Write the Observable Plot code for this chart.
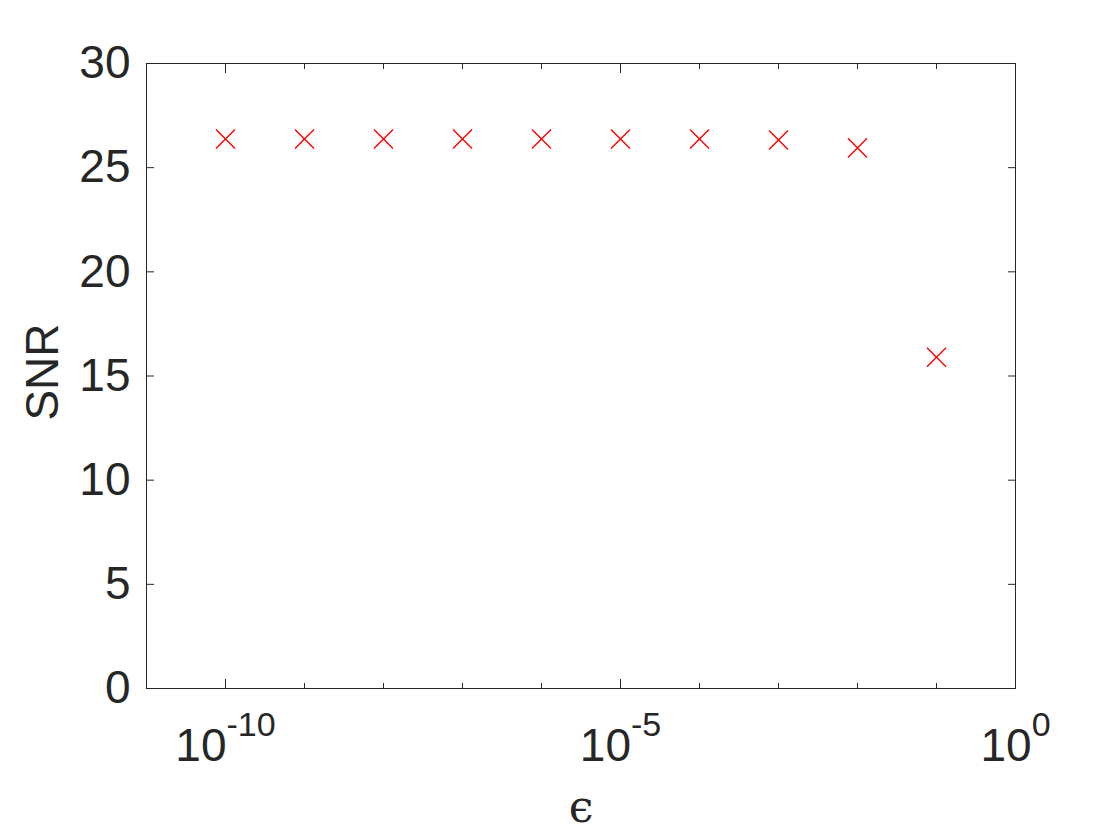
<!DOCTYPE html>
<html><head><meta charset="utf-8">
<script src="https://cdn.jsdelivr.net/npm/d3@7"></script>
<script src="https://cdn.jsdelivr.net/npm/@observablehq/plot@0.6"></script>
<style>body{margin:0;background:#fff}</style>
</head><body><div id="chart"></div>
<script>
const epsilon = [1e-10, 1e-9, 1e-8, 1e-7, 1e-6, 1e-5, 1e-4, 1e-3, 1e-2, 1e-1];
const snr = [26.38, 26.38, 26.38, 26.38, 26.38, 26.38, 26.38, 26.33, 25.95, 15.90];
const xMajorTicks = [1e-10, 1e-5, 1];
const xMajorLabels = ["10^-10", "10^-5", "10^0"];
const xMinorTicks = [1e-9, 1e-8, 1e-7, 1e-6, 1e-4, 1e-3, 1e-2, 1e-1];
const yTicks = [0, 5, 10, 15, 20, 25, 30];
const xLabel = "ϵ";
const yLabel = "SNR";

const points = epsilon.map((e, i) => ({e, s: snr[i]}));
const ink = "#262626";

const chart = Plot.plot({
  width: 1120,
  height: 840,
  marginLeft: 146,
  marginRight: 105,
  marginTop: 63,
  marginBottom: 152,
  style: {fontFamily: "'Liberation Sans', Arial, sans-serif", background: "white", color: ink},
  x: {type: "log", domain: [1e-11, 1]},
  y: {domain: [0, 30]},
  marks: [
    Plot.frame({stroke: ink, strokeWidth: 1}),
    Plot.axisX({ticks: xMajorTicks, anchor: "bottom", tickSize: -9, tickFormat: () => "", label: null, color: ink}),
    Plot.axisX({ticks: xMinorTicks, anchor: "bottom", tickSize: -5, tickFormat: () => "", label: null, color: ink}),
    Plot.axisX({ticks: xMajorTicks, anchor: "top", tickSize: -9, tickFormat: () => "", label: null, color: ink}),
    Plot.axisX({ticks: xMinorTicks, anchor: "top", tickSize: -5, tickFormat: () => "", label: null, color: ink}),
    Plot.axisY({ticks: yTicks, anchor: "left", tickSize: -8, tickFormat: () => "", label: null, color: ink}),
    Plot.axisY({ticks: yTicks, anchor: "right", tickSize: -8, tickFormat: () => "", label: null, color: ink}),
    Plot.text(yTicks, {y: d => d, frameAnchor: "left", textAnchor: "end", dx: -16, fontSize: 46, fill: ink, text: d => String(d)}),
    Plot.text(xMajorTicks, {x: d => d, frameAnchor: "bottom", textAnchor: "middle", dy: 72, fontSize: 46, fill: ink, text: (d, i) => xMajorLabels[i]}),
    Plot.text([yLabel], {frameAnchor: "left", textAnchor: "middle", rotate: -90, dx: -103, dy: -4, fontSize: 46, fill: ink, text: d => d}),
    Plot.text([xLabel], {frameAnchor: "bottom", textAnchor: "middle", dy: 133, fontSize: 44, fontFamily: "'DejaVu Serif', serif", fill: ink, text: d => d}),
    Plot.dot(points, {x: "e", y: "s", symbol: "times", r: 8.7, stroke: "#ff0000", strokeWidth: 1.4})
  ]
});

// render "10^n" labels with superscript exponents
const ns = "http://www.w3.org/2000/svg";
chart.querySelectorAll("text").forEach(t => {
  const s = t.textContent;
  if (s.includes("^")) {
    const [b, e] = s.split("^");
    t.textContent = "";
    const t1 = document.createElementNS(ns, "tspan");
    t1.textContent = b;
    const t2 = document.createElementNS(ns, "tspan");
    t2.setAttribute("dy", "-25");
    t2.setAttribute("font-size", "34");
    t2.textContent = e;
    t.appendChild(t1);
    t.appendChild(t2);
  }
});

document.getElementById("chart").appendChild(chart);
</script>
</body></html>
